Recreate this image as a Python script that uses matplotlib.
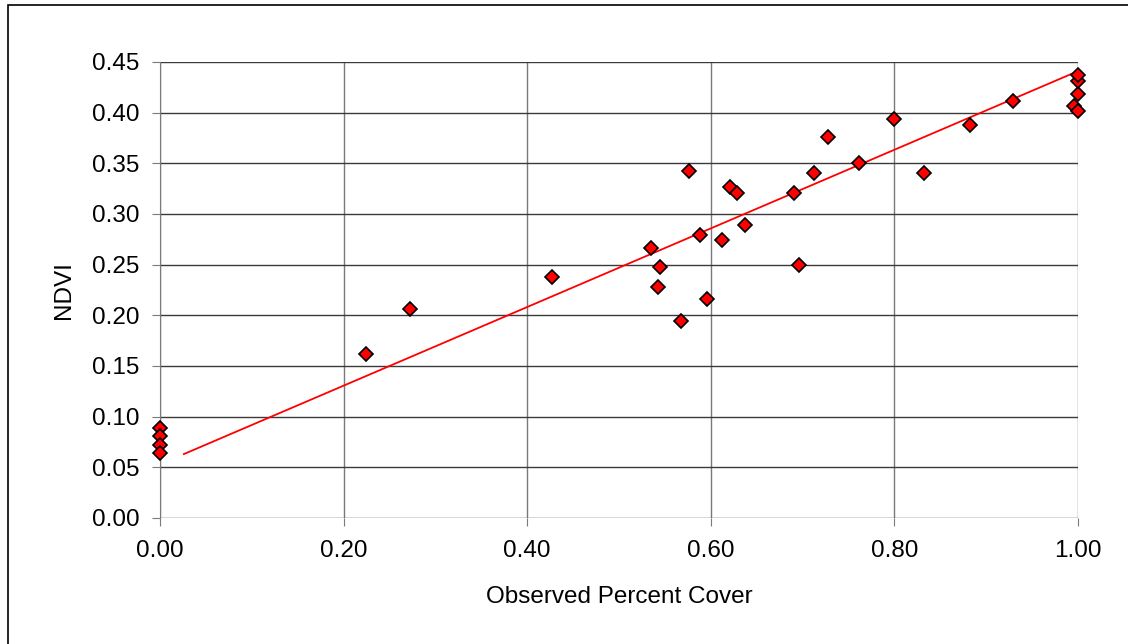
import matplotlib

matplotlib.use("Agg")
import matplotlib.pyplot as plt
from matplotlib.patches import Rectangle

plt.rcParams["font.family"] = ["Liberation Sans", "DejaVu Sans"]

# observed percent cover vs NDVI
cover = [0.000, 0.000, 0.000, 0.000, 0.224, 0.272, 0.427, 0.535, 0.545, 0.543,
         0.567, 0.576, 0.588, 0.596, 0.612, 0.621, 0.629, 0.637, 0.691, 0.696,
         0.712, 0.728, 0.761, 0.800, 0.832, 0.882, 0.929, 0.996, 1.000, 1.000,
         1.000, 1.000]
ndvi = [0.089, 0.081, 0.072, 0.064, 0.162, 0.206, 0.238, 0.266, 0.248, 0.228,
        0.194, 0.342, 0.279, 0.216, 0.274, 0.327, 0.321, 0.289, 0.321, 0.250,
        0.340, 0.376, 0.350, 0.394, 0.340, 0.388, 0.412, 0.407, 0.402, 0.418,
        0.431, 0.437]

# linear trend line as drawn in the chart
trend_x = [0.026, 1.0]
trend_slope = 0.388
trend_intercept = 0.053

xticks = [0.0, 0.2, 0.4, 0.6, 0.8, 1.0]
yticks = [0.00, 0.05, 0.10, 0.15, 0.20, 0.25, 0.30, 0.35, 0.40, 0.45]

fig = plt.figure(figsize=(11.28, 6.44), dpi=100)
# outer chart border (right and bottom edges run off the image)
fig.patches.append(Rectangle((8 / 1128, -0.05), 1.2, 1.05 - 5 / 644,
                             transform=fig.transFigure, fill=False,
                             edgecolor="black", linewidth=1.2))
ax = fig.add_axes([160 / 1128, 1 - 518 / 644, 918 / 1128, 456 / 644])

ax.plot(trend_x, [trend_intercept + trend_slope * x for x in trend_x],
        color="#ff0000", linewidth=1.3, zorder=2)
ax.plot(cover, ndvi, linestyle="none", marker="D", markersize=7.5,
        markerfacecolor="#ff0000", markeredgecolor="black",
        markeredgewidth=1.2, zorder=3, clip_on=False)

ax.set_xlim(0, 1.0)
ax.set_ylim(0, 0.45)
ax.set_xticks(xticks)
ax.set_yticks(yticks)
ax.set_xticklabels([f"{v:.2f}" for v in xticks])
ax.set_yticklabels([f"{v:.2f}" for v in yticks])
ax.yaxis.grid(True, color="#3a3a3a", linewidth=1.0)
ax.xaxis.grid(True, color="#7a7a7a", linewidth=1.0)
ax.set_axisbelow(True)
for side in ["top", "right", "bottom"]:
    ax.spines[side].set_visible(False)
ax.spines["left"].set_color("#7a7a7a")
ax.tick_params(axis="both", colors="#7a7a7a", labelcolor="black",
               labelsize=17.5, length=6, direction="out")
ax.tick_params(axis="y", pad=9)
ax.tick_params(axis="x", pad=10)
ax.set_xlabel("Observed Percent Cover", fontsize=17.5, labelpad=17)
ax.set_ylabel("NDVI", fontsize=17.5, labelpad=12)

fig.savefig("out.png", dpi=100)
